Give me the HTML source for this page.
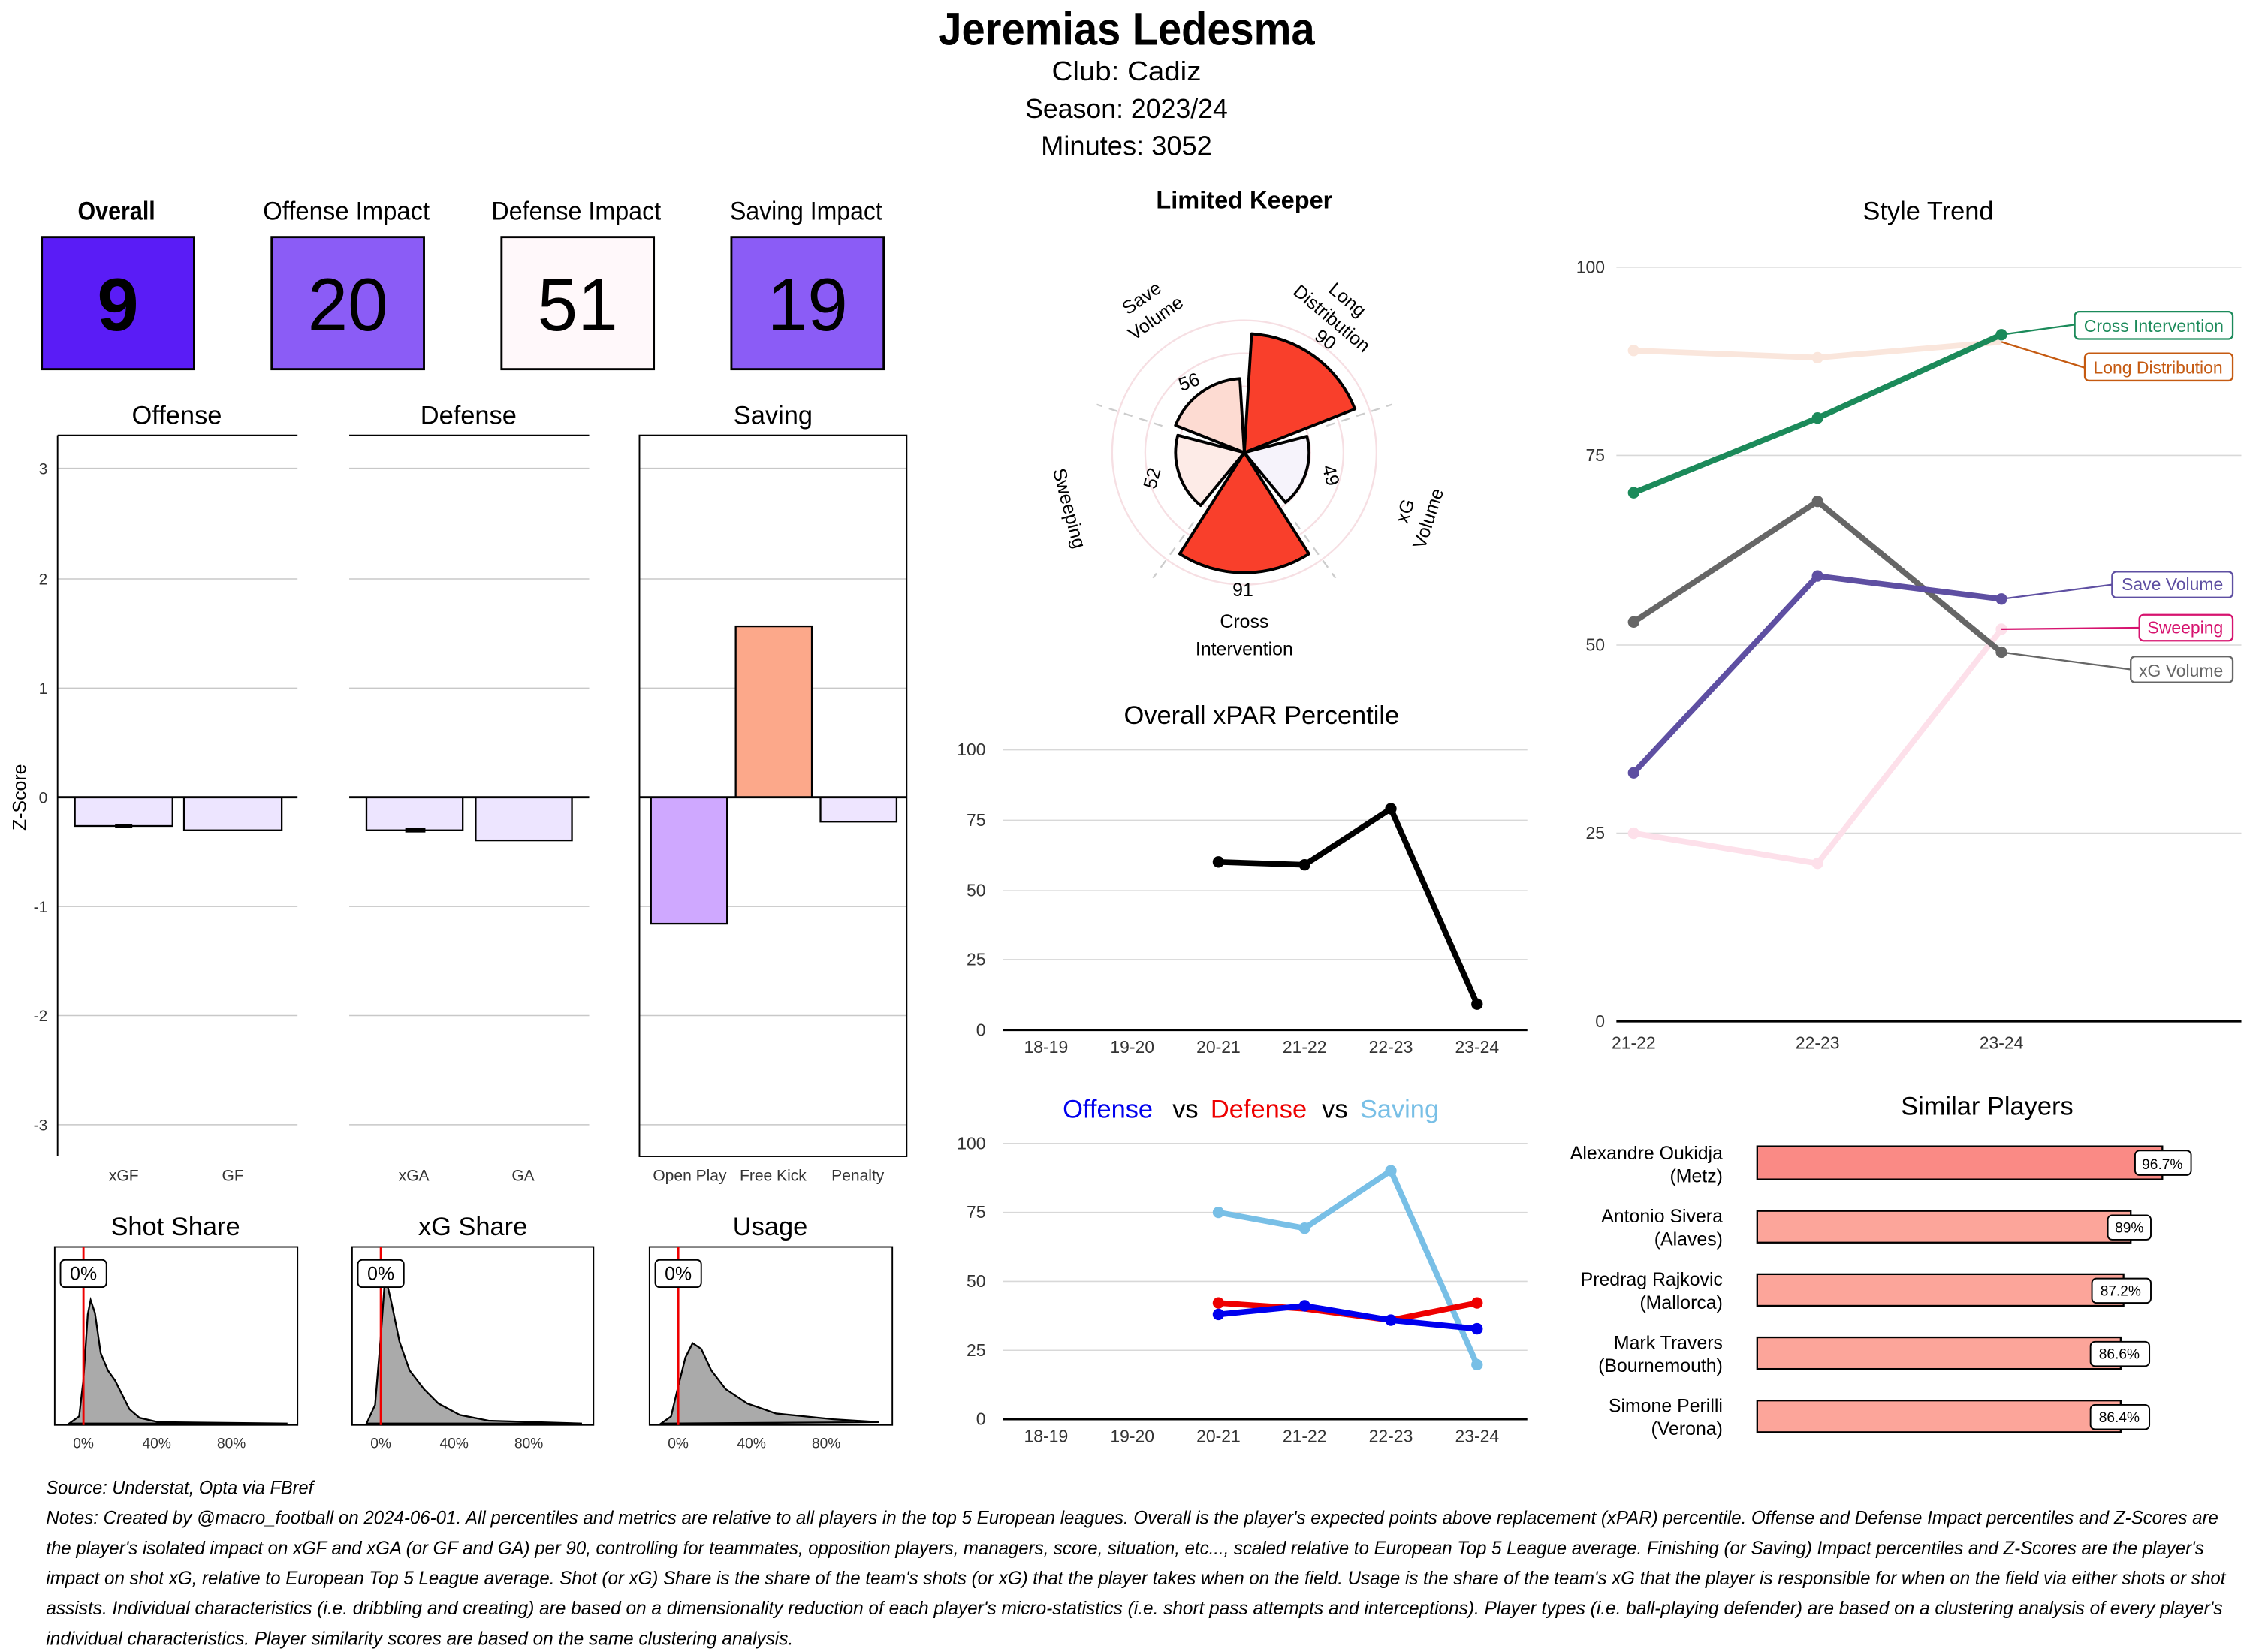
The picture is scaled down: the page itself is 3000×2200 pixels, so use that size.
<!DOCTYPE html>
<html><head><meta charset="utf-8"><style>html,body{margin:0;padding:0;background:#fff}svg{display:block}</style></head><body>
<svg id="s" width="3000" height="2200" viewBox="0 0 1568 1150" xmlns="http://www.w3.org/2000/svg" font-family="Liberation Sans, sans-serif">
<rect width="1568" height="1150" fill="#fff"/>
<!-- header -->
<text x="784" y="31" font-size="32" font-weight="bold" text-anchor="middle" textLength="262" lengthAdjust="spacingAndGlyphs">Jeremias Ledesma</text>
<g font-size="19" text-anchor="middle">
<text x="784" y="56" textLength="104" lengthAdjust="spacingAndGlyphs">Club:  Cadiz</text>
<text x="784" y="82" textLength="141" lengthAdjust="spacingAndGlyphs">Season:  2023/24</text>
<text x="784" y="108" textLength="119" lengthAdjust="spacingAndGlyphs">Minutes:  3052</text>
</g>
<!-- impact boxes -->
<g font-size="18" text-anchor="middle">
<text x="81" y="153" font-weight="bold" textLength="54" lengthAdjust="spacingAndGlyphs">Overall</text>
<text x="241" y="153" textLength="116" lengthAdjust="spacingAndGlyphs">Offense Impact</text>
<text x="401" y="153" textLength="118" lengthAdjust="spacingAndGlyphs">Defense Impact</text>
<text x="561" y="153" textLength="106" lengthAdjust="spacingAndGlyphs">Saving Impact</text>
</g>
<rect x="29" y="165" width="106" height="92" fill="#5a1cf6" stroke="#000" stroke-width="1.5"/>
<rect x="189" y="165" width="106" height="92" fill="#8b5cf6" stroke="#000" stroke-width="1.5"/>
<rect x="349" y="165" width="106" height="92" fill="#fff8fa" stroke="#000" stroke-width="1.5"/>
<rect x="509" y="165" width="106" height="92" fill="#8b5cf6" stroke="#000" stroke-width="1.5"/>
<g font-size="52" text-anchor="middle">
<text x="82" y="230" font-weight="bold">9</text>
<text x="242" y="230" textLength="56" lengthAdjust="spacingAndGlyphs">20</text>
<text x="402" y="230" textLength="56" lengthAdjust="spacingAndGlyphs">51</text>
<text x="562" y="230" textLength="56" lengthAdjust="spacingAndGlyphs">19</text>
</g>
<!-- z-score panels -->
<g font-size="18" text-anchor="middle">
<text x="123" y="295">Offense</text><text x="326" y="295">Defense</text><text x="538" y="295">Saving</text>
</g>
<g stroke="#c8c8c8" stroke-width="0.8">
<path d="M40 326H207M40 403H207M40 479H207M40 631H207M40 707H207M40 783H207"/>
<path d="M243 326H410M243 403H410M243 479H410M243 631H410M243 707H410M243 783H410"/>
<path d="M445 326H631M445 403H631M445 479H631M445 631H631M445 707H631M445 783H631"/>
</g>
<g stroke="#000" stroke-width="1"><path d="M40 303H207M243 303H410"/><path d="M40 303V805"/><rect x="445" y="303" width="186" height="502" fill="none"/></g>
<g font-size="11" text-anchor="end" fill="#333">
<text x="33" y="330">3</text><text x="33" y="407">2</text><text x="33" y="483">1</text><text x="33" y="559">0</text><text x="33" y="635">-1</text><text x="33" y="711">-2</text><text x="33" y="787">-3</text>
</g>
<text transform="translate(18,555) rotate(-90)" font-size="13" text-anchor="middle">Z-Score</text>
<g stroke="#000" stroke-width="1.2">
<rect x="52" y="555" width="68" height="20" fill="#ede5ff"/>
<rect x="128" y="555" width="68" height="23" fill="#ede5ff"/>
<rect x="255" y="555" width="67" height="23" fill="#ede5ff"/>
<rect x="331" y="555" width="67" height="30" fill="#ede5ff"/>
<rect x="453" y="555" width="53" height="88" fill="#cfa8ff"/>
<rect x="512" y="436" width="53" height="119" fill="#fca88a"/>
<rect x="571" y="555" width="53" height="17" fill="#eee5ff"/>
<path d="M80 575H92M282 578H296" stroke-width="3"/>
<path d="M40 555H207M243 555H410M445 555H631" stroke-width="1.5"/>
</g>
<g font-size="11" text-anchor="middle" fill="#333">
<text x="86" y="822">xGF</text><text x="162" y="822">GF</text><text x="288" y="822">xGA</text><text x="364" y="822">GA</text>
<text x="480" y="822">Open Play</text><text x="538" y="822">Free Kick</text><text x="597" y="822">Penalty</text>
</g>
<!-- density panels -->
<g font-size="18" text-anchor="middle"><text x="122" y="860">Shot Share</text><text x="329" y="860">xG Share</text><text x="536" y="860">Usage</text></g>
<g fill="#aaaaaa" stroke="#000" stroke-width="1.2">
<path d="M48 991L55 986L58 960L61 915L63 905L66 914L70 942L75 954L80 961L85 971L90 981L97 987L110 990L200 991Z"/>
<path d="M255 991L261 978L265 930L268 888L272 905L278 934L285 954L295 967L305 977L320 985L340 989L405 991Z"/>
<path d="M460 991L467 986L472 965L477 945L482 935L488 939L495 954L505 967L520 977L540 984L560 986L580 988L612 990Z"/>
</g>
<g fill="none" stroke="#000" stroke-width="1"><rect x="38" y="868" width="169" height="124"/><rect x="245" y="868" width="168" height="124"/><rect x="452" y="868" width="169" height="124"/></g>
<path d="M58 868V992M265 868V992M472 868V992" stroke="#e00" stroke-width="1.5"/>
<g fill="#fff" stroke="#000"><rect x="42" y="877" width="32" height="19" rx="3"/><rect x="249" y="877" width="32" height="19" rx="3"/><rect x="456" y="877" width="32" height="19" rx="3"/></g>
<g font-size="13" text-anchor="middle"><text x="58" y="891">0%</text><text x="265" y="891">0%</text><text x="472" y="891">0%</text></g>
<g font-size="10" text-anchor="middle" fill="#333">
<text x="58" y="1008">0%</text><text x="109" y="1008">40%</text><text x="161" y="1008">80%</text>
<text x="265" y="1008">0%</text><text x="316" y="1008">40%</text><text x="368" y="1008">80%</text>
<text x="472" y="1008">0%</text><text x="523" y="1008">40%</text><text x="575" y="1008">80%</text>
</g>
<!-- polar -->
<text x="866" y="145" font-size="17" font-weight="bold" text-anchor="middle">Limited Keeper</text>
<g fill="none" stroke="#f6dfe3" stroke-width="1.2"><circle cx="866" cy="315" r="92"/><circle cx="866" cy="315" r="69"/><circle cx="866" cy="315" r="46"/><circle cx="866" cy="315" r="23"/></g>
<g id="polar"></g>
<g font-size="13" text-anchor="middle">
<text transform="translate(920,240) rotate(35)">90</text>
<text transform="translate(829,270) rotate(-20)">56</text>
<text transform="translate(806,334) rotate(-75)">52</text>
<text transform="translate(922,332) rotate(75)">49</text>
<text x="865" y="415">91</text>
<text transform="translate(797,211) rotate(-35)"><tspan x="0" y="0">Save</tspan><tspan x="0" y="17">Volume</tspan></text>
<text transform="translate(935,212) rotate(40)"><tspan x="0" y="0">Long</tspan><tspan x="0" y="17">Distribution</tspan></text>
<text transform="translate(982,357) rotate(-72)"><tspan x="0" y="0">xG</tspan><tspan x="0" y="17">Volume</tspan></text>
<text transform="translate(740,355) rotate(75)">Sweeping</text>
<text x="866" y="437">Cross</text><text x="866" y="456">Intervention</text>
</g>
<!-- xPAR -->
<text x="878" y="504" font-size="18" text-anchor="middle">Overall xPAR Percentile</text>
<g stroke="#d8d8d8" stroke-width="0.8"><path d="M698 522H1063M698 571H1063M698 620H1063M698 668H1063"/></g>
<path d="M698 717H1063" stroke="#000" stroke-width="1.5"/>
<g font-size="12" text-anchor="end" fill="#333"><text x="686" y="526">100</text><text x="686" y="575">75</text><text x="686" y="624">50</text><text x="686" y="672">25</text><text x="686" y="721">0</text></g>
<g font-size="12" text-anchor="middle" fill="#333"><text x="728" y="733">18-19</text><text x="788" y="733">19-20</text><text x="848" y="733">20-21</text><text x="908" y="733">21-22</text><text x="968" y="733">22-23</text><text x="1028" y="733">23-24</text></g>
<polyline points="848,600 908,602 968,563 1028,699" fill="none" stroke="#000" stroke-width="4"/>
<g fill="#000"><circle cx="848" cy="600" r="4"/><circle cx="908" cy="602" r="4"/><circle cx="968" cy="563" r="4"/><circle cx="1028" cy="699" r="4"/></g>
<!-- O vs D vs S -->
<g font-size="18" text-anchor="middle"><text x="771" y="778" fill="#0000ee">Offense</text><text x="825" y="778">vs</text><text x="876" y="778" fill="#ee0000">Defense</text><text x="929" y="778">vs</text><text x="974" y="778" fill="#78bfe6">Saving</text></g>
<g stroke="#d8d8d8" stroke-width="0.8"><path d="M698 796H1063M698 844H1063M698 892H1063M698 940H1063"/></g>
<path d="M698 988H1063" stroke="#000" stroke-width="1.5"/>
<g font-size="12" text-anchor="end" fill="#333"><text x="686" y="800">100</text><text x="686" y="848">75</text><text x="686" y="896">50</text><text x="686" y="944">25</text><text x="686" y="992">0</text></g>
<g font-size="12" text-anchor="middle" fill="#333"><text x="728" y="1004">18-19</text><text x="788" y="1004">19-20</text><text x="848" y="1004">20-21</text><text x="908" y="1004">21-22</text><text x="968" y="1004">22-23</text><text x="1028" y="1004">23-24</text></g>
<polyline points="848,844 908,855 968,815 1028,950" fill="none" stroke="#78bfe6" stroke-width="4"/>
<polyline points="848,907 908,911 968,919 1028,907" fill="none" stroke="#ee0000" stroke-width="4"/>
<polyline points="848,915 908,909 968,919 1028,925" fill="none" stroke="#0000ee" stroke-width="4"/>
<g fill="#78bfe6"><circle cx="848" cy="844" r="4"/><circle cx="908" cy="855" r="4"/><circle cx="968" cy="815" r="4"/><circle cx="1028" cy="950" r="4"/></g>
<g fill="#ee0000"><circle cx="848" cy="907" r="4"/><circle cx="1028" cy="907" r="4"/></g>
<g fill="#0000ee"><circle cx="848" cy="915" r="4"/><circle cx="908" cy="909" r="4"/><circle cx="968" cy="919" r="4"/><circle cx="1028" cy="925" r="4"/></g>
<!-- Style trend -->
<text x="1342" y="153" font-size="18" text-anchor="middle">Style Trend</text>
<g stroke="#d8d8d8" stroke-width="0.8"><path d="M1125 186H1560M1125 317H1560M1125 449H1560M1125 580H1560"/></g>
<path d="M1125 711H1560" stroke="#000" stroke-width="1.5"/>
<g font-size="12" text-anchor="end" fill="#333"><text x="1117" y="190">100</text><text x="1117" y="321">75</text><text x="1117" y="453">50</text><text x="1117" y="584">25</text><text x="1117" y="715">0</text></g>
<g font-size="12" text-anchor="middle" fill="#333"><text x="1137" y="730">21-22</text><text x="1265" y="730">22-23</text><text x="1393" y="730">23-24</text></g>
<g fill="none" stroke-width="4">
<polyline points="1137,244 1265,249 1393,238" stroke="#fae6dc"/>
<polyline points="1137,580 1265,601 1393,438" stroke="#fde0ea"/>
<polyline points="1137,433 1265,349 1393,454" stroke="#666"/>
<polyline points="1137,538 1265,401 1393,417" stroke="#5e4fa2"/>
<polyline points="1137,343 1265,291 1393,233" stroke="#1b8a5a"/>
</g>
<g fill="#fae6dc"><circle cx="1137" cy="244" r="4"/><circle cx="1265" cy="249" r="4"/></g>
<g fill="#fde0ea"><circle cx="1137" cy="580" r="4"/><circle cx="1265" cy="601" r="4"/><circle cx="1393" cy="438" r="4"/></g>
<g fill="#666"><circle cx="1137" cy="433" r="4"/><circle cx="1265" cy="349" r="4"/><circle cx="1393" cy="454" r="4"/></g>
<g fill="#5e4fa2"><circle cx="1137" cy="538" r="4"/><circle cx="1265" cy="401" r="4"/><circle cx="1393" cy="417" r="4"/></g>
<g fill="#1b8a5a"><circle cx="1137" cy="343" r="4"/><circle cx="1265" cy="291" r="4"/><circle cx="1393" cy="233" r="4"/></g>
<g stroke-width="1.2" fill="#fff">
<path d="M1393 233L1444 226" stroke="#1b8a5a"/><rect x="1444" y="217" width="110" height="19" rx="3" stroke="#1b8a5a"/>
<path d="M1393 238L1451 256" stroke="#c55a11"/><rect x="1451" y="246" width="103" height="19" rx="3" stroke="#c55a11"/>
<path d="M1393 417L1470 407" stroke="#5e4fa2"/><rect x="1470" y="398" width="84" height="18" rx="3" stroke="#5e4fa2"/>
<path d="M1393 438L1489 437" stroke="#d6136f"/><rect x="1489" y="428" width="65" height="18" rx="3" stroke="#d6136f"/>
<path d="M1393 454L1483 466" stroke="#666"/><rect x="1483" y="457" width="71" height="18" rx="3" stroke="#666"/>
</g>
<g font-size="12" text-anchor="middle">
<text x="1499" y="231" fill="#1b8a5a">Cross Intervention</text>
<text x="1502" y="260" fill="#c55a11">Long Distribution</text>
<text x="1512" y="411" fill="#5e4fa2">Save Volume</text>
<text x="1521" y="441" fill="#d6136f">Sweeping</text>
<text x="1518" y="471" fill="#666">xG Volume</text>
</g>
<!-- similar players -->
<text x="1383" y="776" font-size="18" text-anchor="middle">Similar Players</text>
<g stroke="#000" stroke-width="1.2">
<rect x="1223" y="798" width="282" height="23" fill="#fa8a85"/>
<rect x="1223" y="843" width="260" height="22" fill="#fca59a"/>
<rect x="1223" y="887" width="255" height="22" fill="#fca59a"/>
<rect x="1223" y="931" width="253" height="22" fill="#fca59a"/>
<rect x="1223" y="975" width="253" height="22" fill="#fca59a"/>
</g>
<g fill="#fff" stroke="#000"><rect x="1486" y="801" width="39" height="17" rx="3"/><rect x="1467" y="846" width="30" height="17" rx="3"/><rect x="1456" y="890" width="41" height="17" rx="3"/><rect x="1455" y="934" width="41" height="17" rx="3"/><rect x="1455" y="978" width="41" height="17" rx="3"/></g>
<g font-size="10" text-anchor="middle"><text x="1505" y="814">96.7%</text><text x="1482" y="858">89%</text><text x="1476" y="902">87.2%</text><text x="1475" y="946">86.6%</text><text x="1475" y="990">86.4%</text></g>
<g font-size="13" text-anchor="end">
<text x="1199" y="807">Alexandre Oukidja</text><text x="1199" y="823">(Metz)</text>
<text x="1199" y="851">Antonio Sivera</text><text x="1199" y="867">(Alaves)</text>
<text x="1199" y="895">Predrag Rajkovic</text><text x="1199" y="911">(Mallorca)</text>
<text x="1199" y="939">Mark Travers</text><text x="1199" y="955">(Bournemouth)</text>
<text x="1199" y="983">Simone Perilli</text><text x="1199" y="999">(Verona)</text>
</g>
<!-- footer -->
<g font-size="13" font-style="italic">
<text x="32" y="1040" textLength="186" lengthAdjust="spacingAndGlyphs">Source: Understat, Opta via FBref</text>
<text x="32" y="1061" textLength="1512" lengthAdjust="spacingAndGlyphs">Notes: Created by @macro_football on 2024-06-01. All percentiles and metrics are relative to all players in the top 5 European leagues. Overall is the player's expected points above replacement (xPAR) percentile. Offense and Defense Impact percentiles and Z-Scores are</text>
<text x="32" y="1082" textLength="1502" lengthAdjust="spacingAndGlyphs">the player's isolated impact on xGF and xGA (or GF and GA) per 90, controlling for teammates, opposition players, managers, score, situation, etc..., scaled relative to European Top 5 League average. Finishing (or Saving) Impact percentiles and Z-Scores are the player's</text>
<text x="32" y="1103" textLength="1517" lengthAdjust="spacingAndGlyphs">impact on shot xG, relative to European Top 5 League average. Shot (or xG) Share is the share of the team's shots (or xG) that the player takes when on the field. Usage is the share of the team's xG that the player is responsible for when on the field via either shots or shot</text>
<text x="32" y="1124" textLength="1515" lengthAdjust="spacingAndGlyphs">assists. Individual characteristics (i.e. dribbling and creating) are based on a dimensionality reduction of each player's micro-statistics (i.e. short pass attempts and interceptions). Player types (i.e. ball-playing defender) are based on a clustering analysis of every player's</text>
<text x="32" y="1145" textLength="520" lengthAdjust="spacingAndGlyphs">individual characteristics. Player similarity scores are based on the same clustering analysis.</text>
</g>
</svg>
<script>
(function(){
var cx=866,cy=315,R=92,g=document.getElementById('polar'),ns='http://www.w3.org/2000/svg';
function pt(a,r){var t=a*Math.PI/180;return (cx+r*Math.sin(t)).toFixed(1)+' '+(cy-r*Math.cos(t)).toFixed(1);}
[72,144,216,288].forEach(function(a){var l=document.createElementNS(ns,'path');l.setAttribute('d','M'+pt(a,60)+'L'+pt(a,108));l.setAttribute('stroke','#ccc');l.setAttribute('stroke-dasharray','6 5');l.setAttribute('stroke-width','1.2');g.appendChild(l);});
var d=[[36,90,'#f93f2b'],[108,49,'#f6f3fb'],[180,91,'#f93f2b'],[252,52,'#fdebe7'],[324,56,'#fddbd2']];
d.forEach(function(s){var r=s[1]/100*R,a0=s[0]-32.5,a1=s[0]+32.5;var p=document.createElementNS(ns,'path');
p.setAttribute('d','M'+cx+' '+cy+'L'+pt(a0,r)+'A'+r+' '+r+' 0 0 1 '+pt(a1,r)+'Z');p.setAttribute('fill',s[2]);p.setAttribute('stroke','#000');p.setAttribute('stroke-width','2');p.setAttribute('stroke-linejoin','round');g.appendChild(p);});
})();
</script>
</body></html>
